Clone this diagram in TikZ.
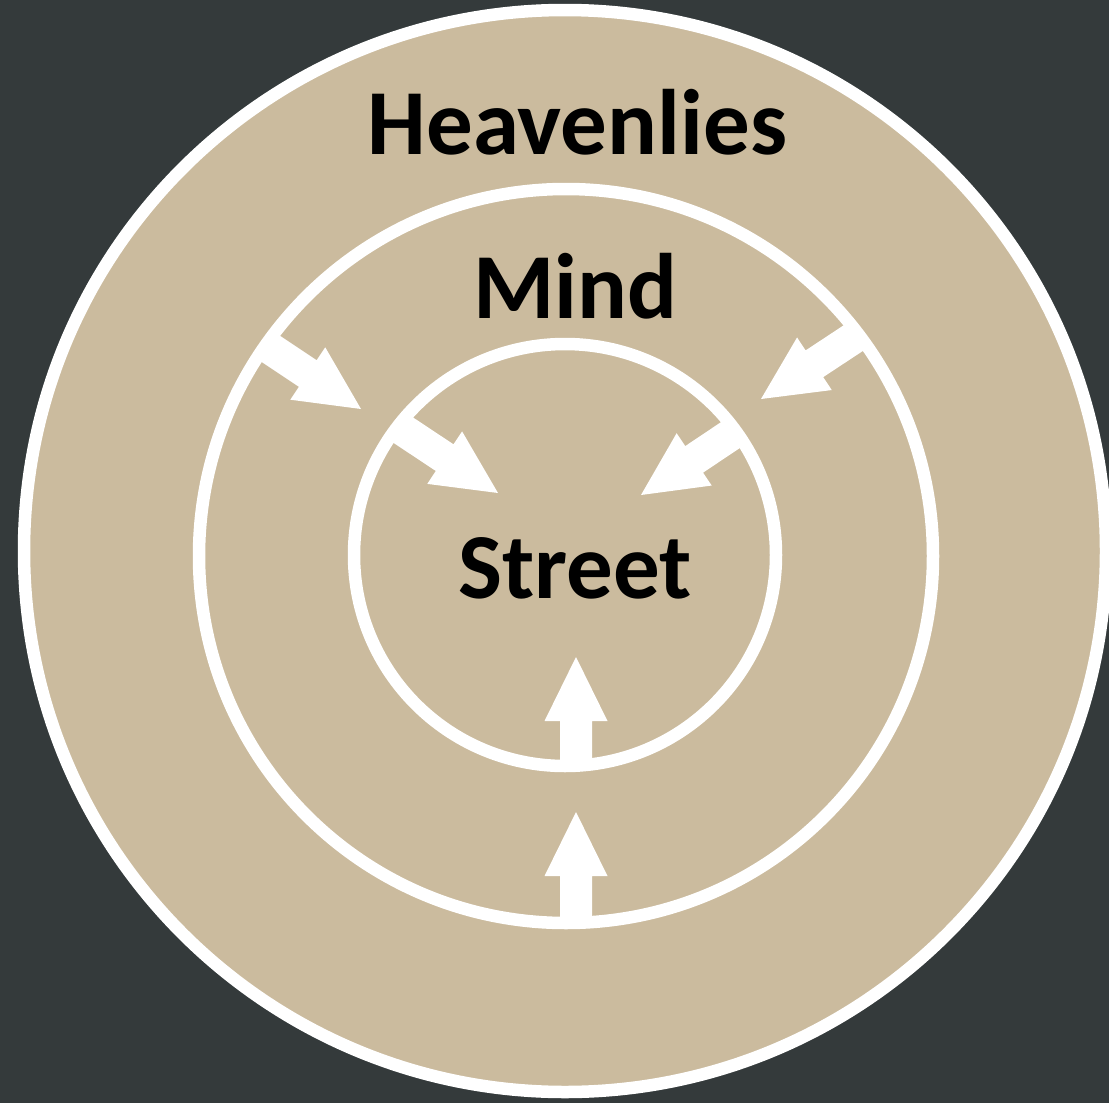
\documentclass[tikz,border=0pt]{standalone}
\usepackage{fontspec}
\setmainfont{Carlito}
\usetikzlibrary{calc}
\definecolor{bgdark}{HTML}{343A3B}
\definecolor{ringtan}{HTML}{CBBB9E}
\tikzset{
  ring/.style={fill=ringtan,draw=white,line width=12.5pt},
  label/.style={anchor=base,inner sep=0pt,text=black,font=\fontsize{93}{100}\selectfont\bfseries},
  arrowfill/.style={fill=white,draw=none}
}
\newcommand{\blockarrow}[2]{%
  \fill[arrowfill]
    ($(#1)!16pt!90:(#2)$) --
    ($($(#2)!64pt!(#1)$)!16pt!90:(#2)$) --
    ($($(#2)!64pt!(#1)$)!31.5pt!90:(#2)$) --
    (#2) --
    ($($(#2)!64pt!(#1)$)!31.5pt!-90:(#2)$) --
    ($($(#2)!64pt!(#1)$)!16pt!-90:(#2)$) --
    ($(#1)!16pt!-90:(#2)$) -- cycle;}
\begin{document}
\begin{tikzpicture}[x=1pt,y=-1pt]
  \useasboundingbox (0,0) rectangle (1109,1103);
  \fill[bgdark] (0,0) rectangle (1109,1103);
  \begin{scope}
    \clip (0,0) rectangle (1109,1103);
    \draw[ring] (565,551) circle[radius=541pt];
    \draw[ring] (566,556) circle[radius=367pt];
    \draw[ring] (565,555) circle[radius=211pt];
  \end{scope}
  % arrow endpoints
  \coordinate (b1s) at (576,766);
  \coordinate (b1e) at (576,657);
  \coordinate (b2s) at (576,924);
  \coordinate (b2e) at (576,812);
  \coordinate (l1s) at (265,345);
  \coordinate (l1e) at (361,409);
  \coordinate (l2s) at (400,428);
  \coordinate (l2e) at (498,493);
  \coordinate (r1s) at (858,335);
  \coordinate (r1e) at (761,399);
  \coordinate (r2s) at (735,432);
  \coordinate (r2e) at (641,495);
  \blockarrow{b1s}{b1e}
  \blockarrow{b2s}{b2e}
  \blockarrow{l1s}{l1e}
  \blockarrow{l2s}{l2e}
  \blockarrow{r1s}{r1e}
  \blockarrow{r2s}{r2e}
  \node[label] (heav) at (577.5,154) {Heavenlies};
  \node[label] (mind) at (575,318) {Mind};
  \node[label] (street) at (575,598) {Street};
\end{tikzpicture}
\end{document}
